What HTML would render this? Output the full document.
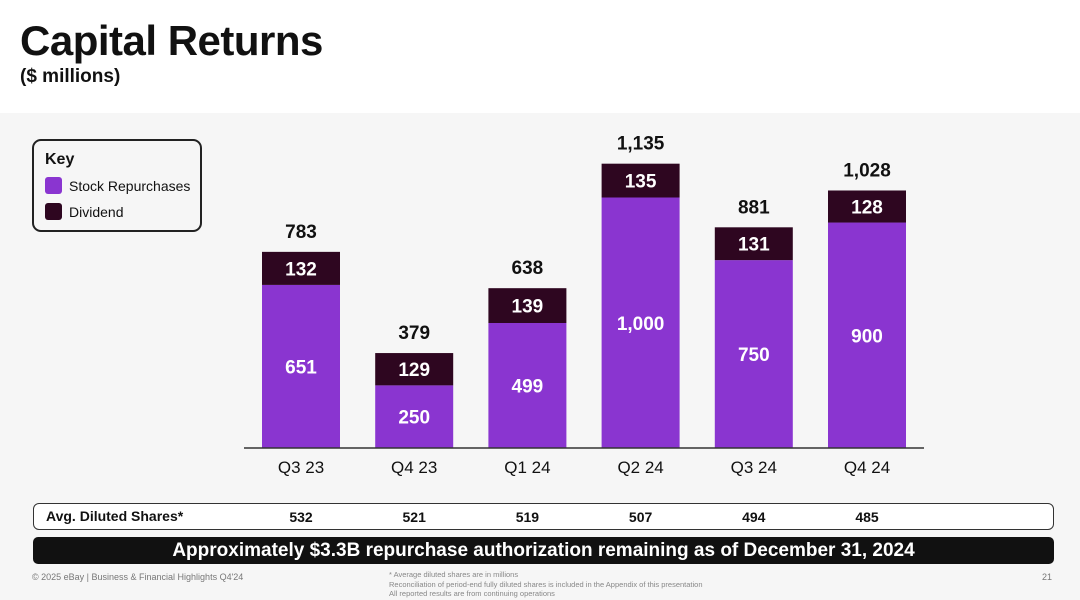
<!DOCTYPE html>
<html><head><meta charset="utf-8">
<style>
body{margin:0;width:1080px;height:600px;background:#fff;font-family:"Liberation Sans",sans-serif;position:relative;overflow:hidden;color:#111}
.abs{position:absolute}
</style></head>
<body>
<div class="abs" style="left:20px;top:17px;font-size:42px;font-weight:bold;letter-spacing:-0.5px">Capital Returns</div>
<div class="abs" style="left:20px;top:66px;font-size:19px;font-weight:bold">($ millions)</div>
<div class="abs" style="left:0;top:113px;width:1080px;height:487px;background:#f6f6f6"></div>
<div class="abs" style="left:32px;top:139px;width:170px;height:93px;border:2px solid #222;border-radius:9px;box-sizing:border-box;background:#f6f6f6">
 <div style="position:absolute;left:11px;top:10px;font-size:16px;font-weight:bold">Key</div>
 <div style="position:absolute;left:11px;top:36px;font-size:14px;display:flex;align-items:center"><span style="width:17px;height:17px;background:#8a35d0;border-radius:3px;margin-right:7px;display:inline-block"></span>Stock Repurchases</div>
 <div style="position:absolute;left:11px;top:62px;font-size:14px;display:flex;align-items:center"><span style="width:17px;height:17px;background:#2e0620;border-radius:3px;margin-right:7px;display:inline-block"></span>Dividend</div>
</div>
<div class="abs" style="left:33px;top:503px;width:1021px;height:27px;border:1.5px solid #333;border-radius:6px;box-sizing:border-box;background:#fff"></div>
<div class="abs" style="left:46px;top:508px;font-size:14px;font-weight:bold">Avg. Diluted Shares*</div>
<div class="abs" style="left:33px;top:537px;width:1021px;height:27px;background:#111;border-radius:5px;color:#fff;font-size:19px;font-weight:bold;text-align:center;line-height:27px">Approximately $3.3B repurchase authorization remaining as of December 31, 2024</div>
<div class="abs" style="left:32px;top:572px;font-size:9px;color:#777">© 2025 eBay | Business &amp; Financial Highlights Q4'24</div>
<div class="abs" style="left:389px;top:570px;font-size:7.5px;color:#888;line-height:9.5px">* Average diluted shares are in millions<br>Reconciliation of period-end fully diluted shares is included in the Appendix of this presentation<br>All reported results are from continuing operations</div>
<div class="abs" style="left:1042px;top:572px;font-size:9px;color:#777">21</div>
<svg class="abs" style="left:0;top:0" width="1080" height="600" id="chart"></svg>
<script>
const categories=["Q3 23","Q4 23","Q1 24","Q2 24","Q3 24","Q4 24"];
const repurchases=[651,250,499,1000,750,900];
const dividends=[132,129,139,135,131,128];
const totals=["783","379","638","1,135","881","1,028"];
const repLabels=["651","250","499","1,000","750","900"];
const shares=["532","521","519","507","494","485"];
const svg=document.getElementById('chart');
const NS='http://www.w3.org/2000/svg';
const baseY=448, k=0.2505, x0=301, step=113.2, bw=78;
const xs=i=>x0+i*step;
const ys=v=>baseY-v*k;
function mk(t,a,txt){const e=document.createElementNS(NS,t);for(const n in a)e.setAttribute(n,a[n]);if(txt!=null)e.textContent=txt;svg.appendChild(e);return e;}
categories.forEach((c,i)=>{
 const cx=xs(i), r=repurchases[i], d=dividends[i];
 const b1=mk('rect',{x:cx-bw/2,y:ys(r),width:bw,height:r*k,fill:'#8a35d0'});
 
 
 const b2=mk('rect',{x:cx-bw/2,y:ys(r+d),width:bw,height:d*k,fill:'#2e0620'});
 
 
 const t1=mk('text',{x:cx,y:(ys(r)+baseY)/2+7,'text-anchor':'middle','font-size':19,'font-weight':'bold',fill:'#fff','font-family':'Liberation Sans'},repLabels[i]);
 
 
 const t2=mk('text',{x:cx,y:(ys(r)+ys(r+d))/2+7,'text-anchor':'middle','font-size':19,'font-weight':'bold',fill:'#fff','font-family':'Liberation Sans'},String(d));
 
 
 const t3=mk('text',{x:cx,y:ys(r+d)-14,'text-anchor':'middle','font-size':19,'font-weight':'bold',fill:'#111','font-family':'Liberation Sans'},totals[i]);
 
 
 const t4=mk('text',{x:cx,y:473,'text-anchor':'middle','font-size':17,fill:'#111','font-family':'Liberation Sans'},c);
 
 
 const t5=mk('text',{x:cx,y:522,'text-anchor':'middle','font-size':14,'font-weight':'bold',fill:'#111','font-family':'Liberation Sans'},shares[i]);
 
 
});
const ax=mk('line',{x1:244,x2:924,y1:baseY,y2:baseY,stroke:'#333','stroke-width':1.5});


</script>
</body></html>
